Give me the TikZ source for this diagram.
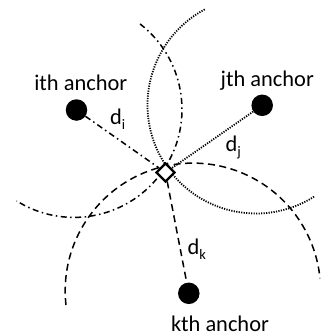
\documentclass[tikz,border=0pt]{standalone}
\usepackage{fontspec}
\setmainfont{Carlito}
\usetikzlibrary{shapes.geometric}
\newcommand{\dsub}[2]{#1\raisebox{-5bp}{\fontsize{14.5}{15}\selectfont #2}}
\begin{document}
\begin{tikzpicture}[x=1bp,y=-1bp,
  anchordot/.style={circle,fill=black,inner sep=0pt,minimum size=21.5bp},
  lbl/.style={inner sep=0pt,font=\fontsize{22.5}{26}\selectfont},
  dashdotline/.style={line width=1.5bp,dash pattern=on 6bp off 3.5bp on 1.5bp off 3.5bp},
  dottedline/.style={line width=1.8bp,dash pattern=on 1.2bp off 1.3bp},
  dashedline/.style={line width=1.5bp,dash pattern=on 7bp off 4.5bp},
  target/.style={diamond,draw,fill=white,line width=2.3bp,inner sep=0pt,minimum size=19bp}]
\useasboundingbox (0,0) rectangle (321,336);
% range circles
\draw[dashdotline] (74,109.4) ++(-52.3:108) arc[start angle=-52.3,end angle=122.1,radius=108];
\draw[dottedline] (256,105) ++(241.8:108.5) arc[start angle=241.8,end angle=57.4,radius=108.5];
\draw[dashedline] (192.9,290.8) ++(173.6:127.7) arc[start angle=173.6,end angle=354.4,radius=127.7];
% anchors and target
\node[anchordot] (ai) at (76.5,110) {};
\node[anchordot] (aj) at (262.2,105.3) {};
\node[anchordot] (ak) at (188.8,293.3) {};
\node[target] (x) at (165.5,172.5) {};
% distance lines
\draw[dashdotline] (ai) -- (x);
\draw[dottedline] (aj) -- (x);
\draw[dashedline] (x) -- (ak);
% labels
\node[lbl,anchor=base] (li) at (80.8,90) {ith anchor};
\node[lbl,anchor=base] (lj) at (267.3,86) {jth anchor};
\node[lbl,anchor=base] (lk) at (220,331.5) {kth anchor};
\node[lbl,anchor=base west] (di) at (110,124) {\dsub{d}{i}};
\node[lbl,anchor=base west] (dj) at (225.5,151.7) {\dsub{d}{j}};
\node[lbl,anchor=base west] (dk) at (187.3,254) {\dsub{d}{k}};
\end{tikzpicture}
\end{document}
